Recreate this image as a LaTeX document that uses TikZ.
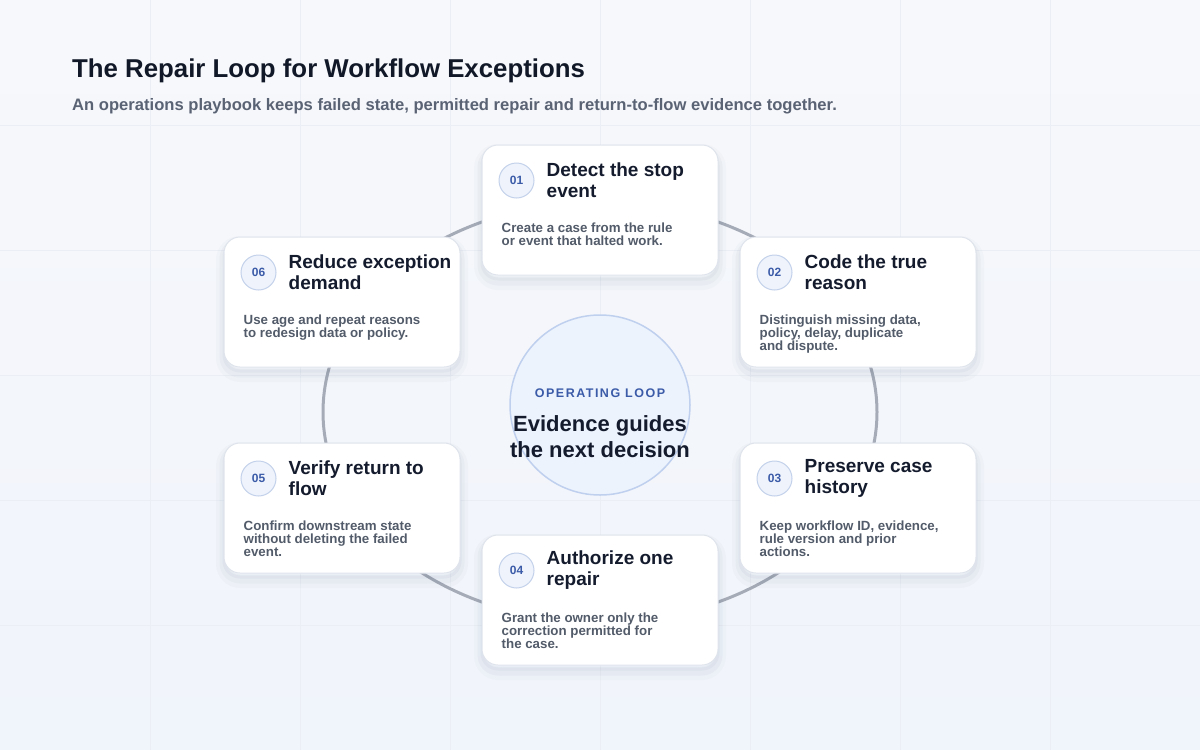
\documentclass[tikz,border=0pt]{standalone}
\usepackage{fontspec}
\setmainfont{Liberation Sans}
\usepackage{tikz}
\usetikzlibrary{positioning}

\definecolor{pagetop}{HTML}{F7F8FB}
\definecolor{pagebottom}{HTML}{F0F4FB}
\definecolor{gridline}{HTML}{EBEEF4}
\definecolor{titletext}{HTML}{111827}
\definecolor{subtext}{HTML}{5A6374}
\definecolor{cardline}{HTML}{DFE4EC}
\definecolor{shadowc}{HTML}{1E3560}
\definecolor{headtext}{HTML}{141B2D}
\definecolor{notetext}{HTML}{525B69}
\definecolor{badgefill}{HTML}{EEF3FC}
\definecolor{badgeline}{HTML}{C3D1EA}
\definecolor{badgetext}{HTML}{3B5BA8}
\definecolor{loopline}{HTML}{A6ACB7}
\definecolor{hubfill}{HTML}{EDF3FD}
\definecolor{hubline}{HTML}{BFD0EE}

\begin{document}
\begin{tikzpicture}[
        x=1pt, y=-1pt,
        node distance=12pt,
        card/.style={rectangle, draw=cardline, line width=1pt, fill=white, rounded corners=16pt, minimum width=236pt, minimum height=130pt,
            preaction={fill=none, draw=shadowc, line width=16pt, draw opacity=0.02, transform canvas={yshift=-7pt}},
            preaction={fill=none, draw=shadowc, line width=9pt, draw opacity=0.03, transform canvas={yshift=-6pt}},
            preaction={fill=none, draw=shadowc, line width=3pt, draw opacity=0.04, transform canvas={yshift=-4pt}}},
        badge/.style={circle, draw=badgeline, line width=1pt, fill=badgefill, minimum size=35pt, inner sep=0pt, text=badgetext, font=\fontsize{12}{14}\selectfont\bfseries},
        head/.style={align=left, inner sep=0pt, text=headtext, font=\fontsize{19}{21}\selectfont\bfseries},
        note/.style={anchor=north west, align=left, inner sep=0pt, text=notetext, font=\fontsize{13.3}{13.3}\selectfont\bfseries},
        loop/.style={draw=loopline, line width=3pt},
        hub/.style={circle, draw=hubline, line width=1.5pt, fill=hubfill, minimum size=180pt}
    ]

        % page and faint grid
        \shade[top color=pagetop, bottom color=pagebottom] (0,0) rectangle (1200,750);
        \useasboundingbox (0,0) rectangle (1200,750);
        \foreach \gx in {150,300,...,1050}
            \draw[gridline, line width=1pt] (\gx,0) -- (\gx,750);
        \foreach \gy in {125,250,...,625}
            \draw[gridline, line width=1pt] (0,\gy) -- (1200,\gy);

        \node[anchor=base west, inner sep=0pt, text=titletext, font=\fontsize{25.8}{30}\selectfont\bfseries] (title) at (72,77) {The Repair Loop for Workflow Exceptions};
        \node[anchor=base west, inner sep=0pt, text=subtext, font=\fontsize{16.6}{20}\selectfont\bfseries] (subtitle) at (72,110) {An operations playbook keeps failed state, permitted repair and return-to-flow evidence together.};

        % the loop behind the cards
        \draw[loop] (600,412) ellipse [x radius=277pt, y radius=210pt];

        \node[hub] (hub) at (600,405) {};
        \node[anchor=base, inner sep=0pt, text=badgetext, font=\fontsize{12.5}{14}\selectfont\bfseries\addfontfeatures{LetterSpace=12}] (kicker) at (600,397) {OPERATING LOOP};
        \node[anchor=north, align=center, inner sep=0pt, text=headtext, font=\fontsize{22}{26}\selectfont\bfseries] (claim) at (600,415) {Evidence guides\\the next decision};

        \node[card] (c1) at (600,210) {};
        \node[card] (c2) at (858,302) {};
        \node[card] (c3) at (858,508) {};
        \node[card] (c4) at (600,600) {};
        \node[card] (c5) at (342,508) {};
        \node[card] (c6) at (342,302) {};

        \node[badge] (b1) at ([shift={(35,36)}]c1.north west) {01};
        \node[head, right=of b1] (h1) {Detect the stop\\event};
        \node[note] (n1) at ([shift={(20,78)}]c1.north west) {Create a case from the rule\\or event that halted work.};

        \node[badge] (b2) at ([shift={(35,36)}]c2.north west) {02};
        \node[head, right=of b2] (h2) {Code the true\\reason};
        \node[note] (n2) at ([shift={(20,78)}]c2.north west) {Distinguish missing data,\\policy, delay, duplicate\\and dispute.};

        \node[badge] (b3) at ([shift={(35,36)}]c3.north west) {03};
        \node[head, right=of b3] (h3) {Preserve case\\history};
        \node[note] (n3) at ([shift={(20,78)}]c3.north west) {Keep workflow ID, evidence,\\rule version and prior\\actions.};

        \node[badge] (b4) at ([shift={(35,36)}]c4.north west) {04};
        \node[head, right=of b4] (h4) {Authorize one\\repair};
        \node[note] (n4) at ([shift={(20,78)}]c4.north west) {Grant the owner only the\\correction permitted for\\the case.};

        \node[badge] (b5) at ([shift={(35,36)}]c5.north west) {05};
        \node[head, right=of b5] (h5) {Verify return to\\flow};
        \node[note] (n5) at ([shift={(20,78)}]c5.north west) {Confirm downstream state\\without deleting the failed\\event.};

        \node[badge] (b6) at ([shift={(35,36)}]c6.north west) {06};
        \node[head, right=of b6] (h6) {Reduce exception\\demand};
        \node[note] (n6) at ([shift={(20,78)}]c6.north west) {Use age and repeat reasons\\to redesign data or policy.};

    \end{tikzpicture}
\end{document}
